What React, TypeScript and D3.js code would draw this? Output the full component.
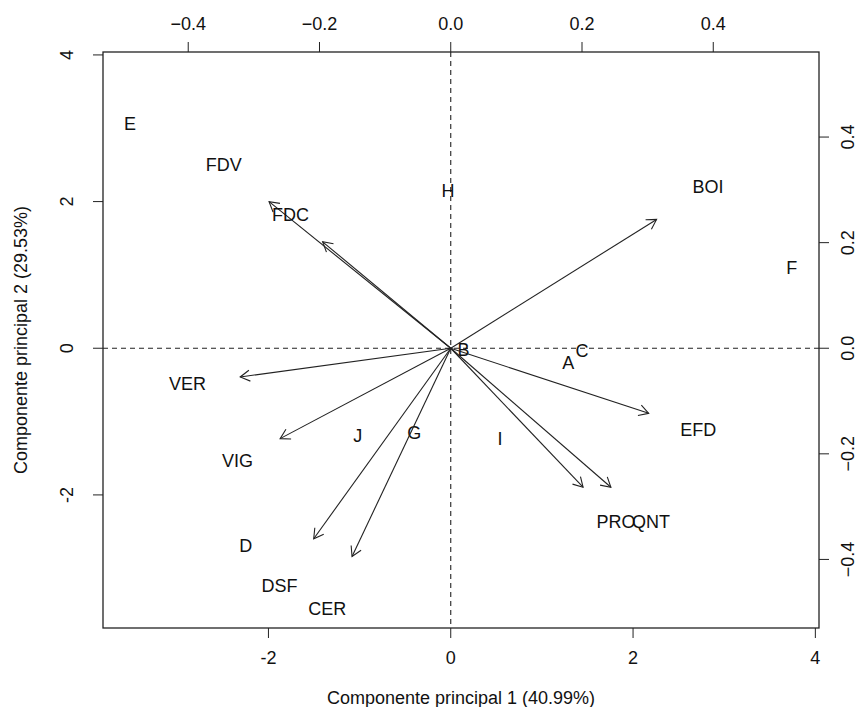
import React from "react";
import * as d3 from "d3";

// observations (scores on PC1 / PC2)
const obsNames = ["A", "B", "C", "D", "E", "F", "G", "H", "I", "J"];
const obsPC1 = [1.29, 0.14, 1.44, -2.25, -3.52, 3.74, -0.4, -0.03, 0.54, -1.02];
const obsPC2 = [-0.2, -0.03, -0.04, -2.7, 3.06, 1.09, -1.16, 2.14, -1.24, -1.19];

// variables (loadings on PC1 / PC2)
const varNames = ["FDV", "FDC", "BOI", "EFD", "PRO", "QNT", "VER", "VIG", "DSF", "CER"];
const varPC1 = [-0.346, -0.244, 0.392, 0.377, 0.252, 0.305, -0.401, -0.325, -0.261, -0.188];
const varPC2 = [0.347, 0.252, 0.305, -0.154, -0.329, -0.329, -0.068, -0.214, -0.451, -0.493];

const scoreTicks = [-2, 0, 2, 4];
const loadTicks = [-0.4, -0.2, 0, 0.2, 0.4];

const xTitle = "Componente principal 1 (40.99%)";
const yTitle = "Componente principal 2 (29.53%)";

const lim: [number, number] = [-3.815, 4.04];
const ratio = 7.2;

const W = 867;
const H = 707;
const left = 103;
const right = 819;
const top = 52;
const bottom = 628;

const font = "'Liberation Sans', Arial, Helvetica, sans-serif";
const fs = 18;
const ink = "#222";

export default function App() {
  const x = d3.scaleLinear().domain(lim).range([left, right]);
  const y = d3.scaleLinear().domain(lim).range([bottom, top]);
  const xl = d3.scaleLinear().domain([lim[0] / ratio, lim[1] / ratio]).range([left, right]);
  const yl = d3.scaleLinear().domain([lim[0] / ratio, lim[1] / ratio]).range([bottom, top]);
  const fmt = d3.format(".1f");

  const head = 11;
  const ang = Math.PI / 6;

  return (
    <svg width={W} height={H} style={{ position: "absolute", left: 0, top: 0 }} fontFamily={font}>
      <rect x={0} y={0} width={W} height={H} fill="#fff" />
      {/* reference lines */}
      <line x1={left} x2={right} y1={yl(0)} y2={yl(0)} stroke={ink} strokeDasharray="5,4" strokeWidth={1.1} />
      <line x1={xl(0)} x2={xl(0)} y1={top} y2={bottom} stroke={ink} strokeDasharray="5,4" strokeWidth={1.1} />

      {/* observation labels */}
      {obsNames.map((n, i) => (
        <text key={n} x={x(obsPC1[i])} y={y(obsPC2[i])} fontSize={fs} textAnchor="middle" dominantBaseline="central" fill="#111">
          {n}
        </text>
      ))}

      {/* variable arrows */}
      {varNames.map((n, i) => {
        const x0 = xl(0);
        const y0 = yl(0);
        const x1 = xl(varPC1[i] * 0.8);
        const y1 = yl(varPC2[i] * 0.8);
        const a = Math.atan2(y1 - y0, x1 - x0);
        const p1 = [x1 - head * Math.cos(a - ang), y1 - head * Math.sin(a - ang)];
        const p2 = [x1 - head * Math.cos(a + ang), y1 - head * Math.sin(a + ang)];
        return (
          <g key={n} stroke={ink} strokeWidth={1.1} fill="none">
            <line x1={x0} y1={y0} x2={x1} y2={y1} />
            <path d={`M${p1[0]},${p1[1]}L${x1},${y1}L${p2[0]},${p2[1]}`} />
          </g>
        );
      })}
      {varNames.map((n, i) => (
        <text key={n} x={xl(varPC1[i])} y={yl(varPC2[i])} fontSize={fs} textAnchor="middle" dominantBaseline="central" fill="#111">
          {n}
        </text>
      ))}

      {/* box */}
      <rect x={left} y={top} width={right - left} height={bottom - top} fill="none" stroke={ink} strokeWidth={1.3} />

      {/* bottom axis */}
      {scoreTicks.map((t) => (
        <g key={"b" + t}>
          <line x1={x(t)} x2={x(t)} y1={bottom} y2={bottom + 10} stroke={ink} />
          <text x={x(t)} y={658} fontSize={fs} textAnchor="middle" dominantBaseline="central" fill="#111">
            {t}
          </text>
        </g>
      ))}
      {/* left axis */}
      {scoreTicks.map((t) => (
        <g key={"l" + t}>
          <line x1={left - 10} x2={left} y1={y(t)} y2={y(t)} stroke={ink} />
          <text transform={`translate(67,${y(t)}) rotate(-90)`} fontSize={fs} textAnchor="middle" dominantBaseline="central" fill="#111">
            {t}
          </text>
        </g>
      ))}
      {/* top axis */}
      {loadTicks.map((t) => (
        <g key={"t" + t}>
          <line x1={xl(t)} x2={xl(t)} y1={top - 10} y2={top} stroke={ink} />
          <text x={xl(t)} y={24} fontSize={fs} textAnchor="middle" dominantBaseline="central" fill="#111">
            {fmt(t)}
          </text>
        </g>
      ))}
      {/* right axis */}
      {loadTicks.map((t) => (
        <g key={"r" + t}>
          <line x1={right} x2={right + 10} y1={yl(t)} y2={yl(t)} stroke={ink} />
          <text transform={`translate(848,${yl(t)}) rotate(-90)`} fontSize={fs} textAnchor="middle" dominantBaseline="central" fill="#111">
            {fmt(t)}
          </text>
        </g>
      ))}

      <text x={(left + right) / 2} y={698} fontSize={fs} textAnchor="middle" dominantBaseline="central" fill="#111">
        {xTitle}
      </text>
      <text transform={`translate(21,${(top + bottom) / 2}) rotate(-90)`} fontSize={fs} textAnchor="middle" dominantBaseline="central" fill="#111">
        {yTitle}
      </text>
    </svg>
  );
}
